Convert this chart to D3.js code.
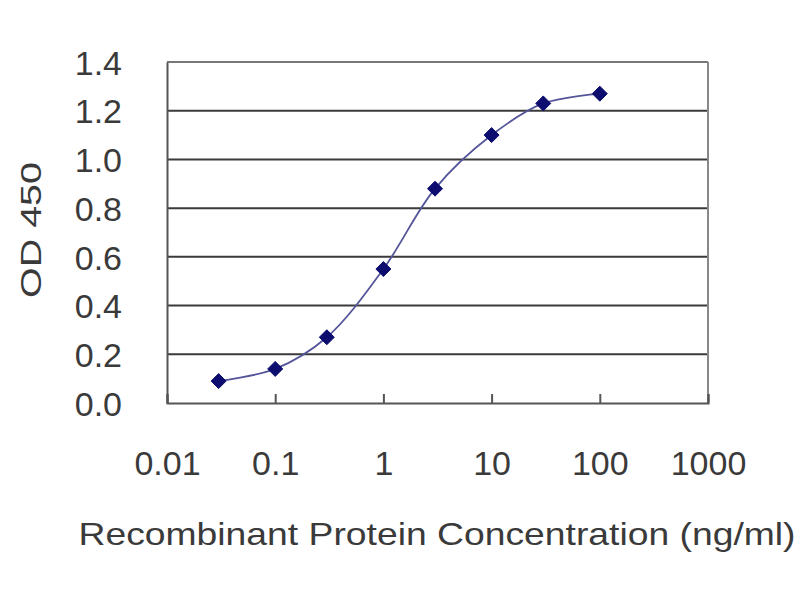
<!DOCTYPE html>
<html><head><meta charset="utf-8">
<script src="https://cdn.jsdelivr.net/npm/d3@7"></script>
<style>html,body{margin:0;padding:0;background:#fff;}svg{display:block;}</style>
</head><body>
<svg id="c" width="800" height="600"></svg>
<script>
const concentrations = [0.03, 0.1, 0.3, 1, 3, 10, 30, 100];
const odValues = [0.09, 0.14, 0.27, 0.55, 0.88, 1.10, 1.23, 1.27];
const xTicks = [0.01, 0.1, 1, 10, 100, 1000];
const xTickLabels = ["0.01", "0.1", "1", "10", "100", "1000"];
const yTicks = [0, 0.2, 0.4, 0.6, 0.8, 1.0, 1.2, 1.4];
const xTitle = "Recombinant Protein Concentration (ng/ml)";
const yTitle = "OD 450";

const svg = d3.select("#c");
const L = 167, R = 708, T = 62, B = 403;
const font = "'Liberation Sans', Arial, sans-serif";

const x = d3.scaleLog().domain([0.01, 1000]).range([L, R]);
const y = d3.scaleLinear().domain([0, 1.4]).range([B, T]);

svg.append("rect").attr("width", 800).attr("height", 600).attr("fill", "#fff");

// gridlines
svg.append("g").selectAll("line").data(yTicks.filter(d => d > 0)).join("line")
  .attr("x1", L).attr("x2", R).attr("y1", d => y(d)).attr("y2", d => y(d))
  .attr("stroke", d => d === 1.4 ? "#777" : "#3a3a3a").attr("stroke-width", 2);

// right border
svg.append("line").attr("x1", R).attr("x2", R).attr("y1", T).attr("y2", B)
  .attr("stroke", "#888").attr("stroke-width", 2);

// y axis
const yAxis = d3.axisLeft(y).tickValues(yTicks).tickFormat(d3.format(".1f")).tickSize(0).tickPadding(45);
const gy = svg.append("g").attr("transform", `translate(${L},0)`).call(yAxis);
gy.select(".domain").attr("stroke", "#555").attr("stroke-width", 2);
gy.selectAll("text").attr("font-family", font).attr("font-size", 34).attr("fill", "#3a3a3a")
  .attr("dy", "0.36em");

// x axis
const xAxis = d3.axisBottom(x).tickValues(xTicks).tickFormat((d, i) => xTickLabels[i]).tickSize(-9).tickPadding(48);
const gx = svg.append("g").attr("transform", `translate(0,${B})`).call(xAxis);
gx.select(".domain").attr("stroke", "#555").attr("stroke-width", 2);
gx.selectAll(".tick line").attr("stroke", "#555").attr("stroke-width", 2);
gx.selectAll("text").attr("font-family", font).attr("font-size", 34).attr("fill", "#3a3a3a");

// curve
const data = concentrations.map((c, i) => ({c, v: odValues[i]}));
const line = d3.line().x(d => x(d.c)).y(d => y(d.v)).curve(d3.curveCatmullRom.alpha(0.5));
svg.append("path").datum(data).attr("d", line).attr("fill", "none")
  .attr("stroke", "#55559a").attr("stroke-width", 1.8);

// markers (wide diamonds)
const diamond = "M0,-7.5L7.5,0L0,7.5L-7.5,0Z";
svg.append("g").selectAll("path").data(data).join("path")
  .attr("d", diamond)
  .attr("transform", d => `translate(${x(d.c)},${y(d.v)})`)
  .attr("fill", "#0d0d70").attr("stroke", "#0d0d70").attr("stroke-width", 1).attr("stroke-linejoin", "round");

// titles
svg.append("text").attr("x", 437).attr("y", 545).attr("text-anchor", "middle")
  .attr("font-family", font).attr("font-size", 32).attr("fill", "#3a3a3a")
  .attr("textLength", 717).attr("lengthAdjust", "spacingAndGlyphs").text(xTitle);
svg.append("text").attr("transform", "translate(41,230) rotate(-90)").attr("text-anchor", "middle")
  .attr("font-family", font).attr("font-size", 30).attr("fill", "#3a3a3a")
  .attr("textLength", 136).attr("lengthAdjust", "spacingAndGlyphs").text(yTitle);
</script>
</body></html>
